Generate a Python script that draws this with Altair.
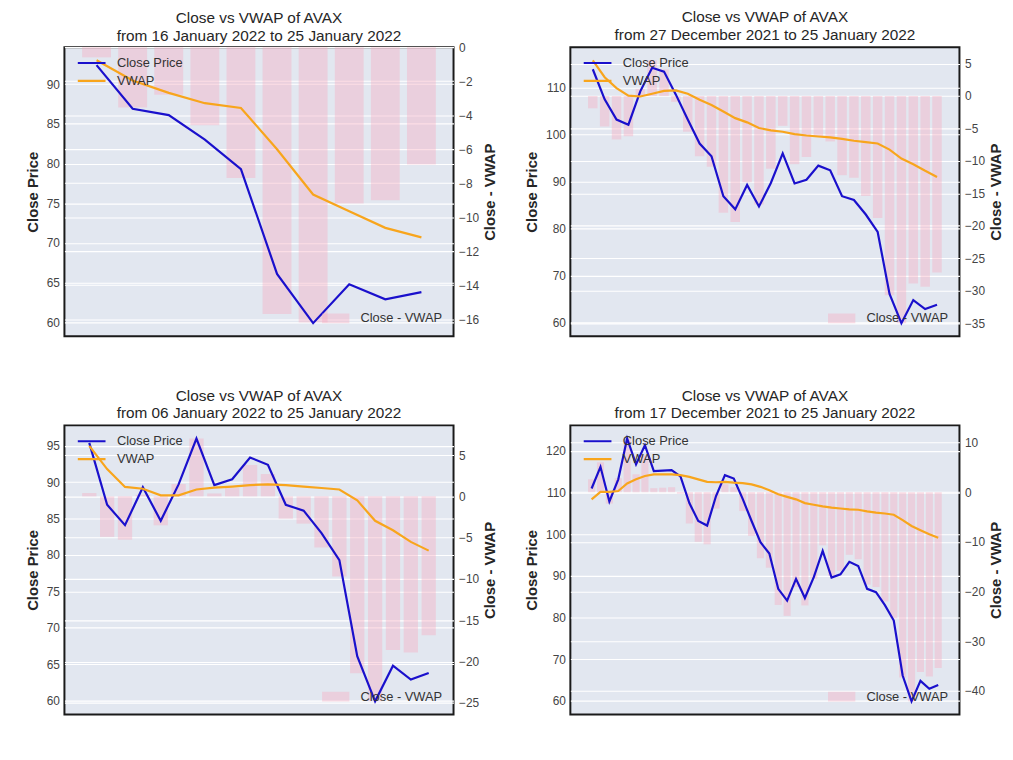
import altair as alt
import pandas as pd
import numpy as np

# ---- data (AVAX daily close, 17 Dec 2021 .. 25 Jan 2022) ----
dates = pd.date_range("2021-12-17", "2022-01-25", freq="D")
close = [111.0, 116.2, 107.9, 113.2, 123.0, 116.8, 121.4, 115.2, 115.3, 115.4,
         113.9, 107.5, 103.2, 102.1, 109.2, 114.2, 113.4, 108.5, 103.2, 98.1,
         95.4, 86.9, 84.1, 89.3, 84.7, 89.7, 96.0, 89.6, 90.4, 93.4,
         92.4, 86.9, 86.1, 83.0, 79.3, 66.1, 59.9, 64.8, 62.9, 63.8]

vwap_from_16jan = [93.0, 90.45, 88.9, 87.6, 87.0, 81.8, 76.1, 74.0, 71.9, 70.7]
vwap_from_06jan = [95.0, 91.8, 89.35, 89.1, 88.2, 88.2, 89.0, 89.25, 89.4, 89.6,
                   89.7, 89.6, 89.4, 89.2, 89.0, 87.5, 84.7, 83.4, 81.8, 80.6]
vwap_from_27dec = [115.8, 112.2, 109.9, 108.3, 108.1, 108.7, 109.3, 109.4, 108.7, 107.4,
                   106.3, 104.9, 103.5, 102.6, 101.4, 100.9, 100.6, 100.1, 99.8, 99.6,
                   99.4, 99.1, 98.7, 98.4, 98.1, 96.8, 94.9, 93.7, 92.3, 91.0]
vwap_from_17dec = [108.4, 110.2, 110.2, 110.4, 112.2, 113.2, 114.0, 114.4, 114.4, 114.4,
                   114.2, 113.8, 113.2, 112.6, 112.5, 112.6, 112.4, 112.3, 112.0, 111.4,
                   110.6, 109.6, 109.0, 108.4, 107.5, 107.1, 106.7, 106.4, 106.2, 106.0,
                   105.9, 105.5, 105.2, 105.0, 104.7, 103.4, 102.0, 101.0, 100.0, 99.2]

left_ticks_16jan = [60, 65, 70, 75, 80, 85, 90]
right_ticks_16jan = [0, -2, -4, -6, -8, -10, -12, -14, -16]
left_ticks_27dec = [60, 70, 80, 90, 100, 110]
right_ticks_27dec = [5, 0, -5, -10, -15, -20, -25, -30, -35]
left_ticks_06jan = [60, 65, 70, 75, 80, 85, 90, 95]
right_ticks_06jan = [5, 0, -5, -10, -15, -20, -25]
left_ticks_17dec = [60, 70, 80, 90, 100, 110, 120]
right_ticks_17dec = [10, 0, -10, -20, -30, -40]

series_names = ["Close Price", "VWAP"]
bar_name = "Close - VWAP"
colors = ["#1a10cc", "#f8a51c"]
bar_color = "#f7a8bd"

PW, PH = 393, 292
FONT = "Liberation Sans"


def panel(vwap, lticks, rticks):
    n = len(vwap)
    c = close[-n:]
    d = dates[-n:]
    df = pd.DataFrame({"i": np.arange(n), "close": c, "vwap": vwap})
    df["diff"] = df["close"] - df["vwap"]
    df["lbl"] = bar_name
    long = pd.concat([
        pd.DataFrame({"i": np.arange(n), "value": c, "series": series_names[0]}),
        pd.DataFrame({"i": np.arange(n), "value": vwap, "series": series_names[1]}),
    ])
    # matplotlib-like autoscaling (5% margins, bars sticky at 0)
    m = 0.05 * ((n - 1) + 0.8)
    xdom = [-0.4 - m, (n - 1) + 0.4 + m]
    lo = min(min(c), min(vwap)); hi = max(max(c), max(vwap)); sp = hi - lo
    ydom = [lo - 0.05 * sp, hi + 0.05 * sp]
    dmin = min(0.0, df["diff"].min()); dmax = max(0.0, df["diff"].max()); dsp = dmax - dmin
    rdom = [dmin - 0.05 * dsp if dmin < 0 else 0.0, dmax + 0.05 * dsp if dmax > 0 else 0.0]

    # a tick label sitting on the top edge pushes the title up; compensate
    top_px = min((rdom[1] - t) / (rdom[1] - rdom[0]) * PH for t in rticks)
    title_offset = 4 - max(0.0, 7 - top_px)

    xs = alt.Scale(domain=xdom, nice=False, zero=False)

    bars = alt.Chart(df).transform_calculate(
        x0="datum.i - 0.4", x1="datum.i + 0.4", zero="0"
    ).mark_bar(opacity=0.38).encode(
        x=alt.X("x0:Q", scale=xs, axis=None),
        x2="x1:Q",
        y=alt.Y("diff:Q", scale=alt.Scale(domain=rdom, nice=False, zero=False),
                axis=alt.Axis(orient="right", values=rticks, title="Close - VWAP",
                              grid=True, labelPadding=5, titlePadding=4,
                              titleAngle=270, titleBaseline="top")),
        y2="zero:Q",
        fill=alt.Fill("lbl:N", scale=alt.Scale(domain=[bar_name], range=[bar_color]),
                      legend=alt.Legend(orient="none", legendX=260, legendY=266, title=None,
                                        symbolType="M-1,-0.36L1,-0.36L1,0.36L-1,0.36Z",
                                        symbolSize=760, symbolOpacity=0.38, symbolStrokeWidth=0,
                                        clipHeight=16, labelOffset=11)),
    )

    lines = alt.Chart(long).mark_line(strokeWidth=2.2).encode(
        x=alt.X("i:Q", scale=xs, axis=None),
        y=alt.Y("value:Q", scale=alt.Scale(domain=ydom, nice=False, zero=False),
                axis=alt.Axis(orient="left", values=lticks, title="Close Price",
                              grid=True, labelPadding=5, titlePadding=6)),
        stroke=alt.Stroke("series:N", scale=alt.Scale(domain=series_names, range=colors),
                          legend=alt.Legend(orient="none", legendX=12, legendY=8, title=None,
                                            symbolType="stroke", symbolSize=784,
                                            symbolStrokeWidth=2.2, clipHeight=16,
                                            rowPadding=2, labelOffset=10)),
        detail="series:N",
    )

    title = ["Close vs VWAP of AVAX",
             "from %s to %s" % (d[0].strftime("%d %B %Y"), d[-1].strftime("%d %B %Y"))]
    return alt.layer(bars, lines).resolve_scale(
        y="independent", fill="independent", stroke="independent"
    ).properties(
        width=PW, height=PH,
        title=alt.TitleParams(title, fontSize=15.5, font=FONT, fontWeight="normal",
                              color="#262626", anchor="middle", lineHeight=17.6,
                              offset=title_offset, frame="group"),
    )


p1 = panel(vwap_from_16jan, left_ticks_16jan, right_ticks_16jan)
p2 = panel(vwap_from_27dec, left_ticks_27dec, right_ticks_27dec)
p3 = panel(vwap_from_06jan, left_ticks_06jan, right_ticks_06jan)
p4 = panel(vwap_from_17dec, left_ticks_17dec, right_ticks_17dec)

res = dict(fill="independent", stroke="independent", y="independent", x="independent")
row1 = alt.hconcat(p1, p2, spacing=24).resolve_scale(**res)
row2 = alt.hconcat(p3, p4, spacing=24).resolve_scale(**res)

chart = alt.vconcat(row1, row2, spacing=50).resolve_scale(**res).properties(
    padding={"left": 16, "top": -3, "right": 0, "bottom": 0}
).configure(
    font=FONT,
).configure_view(
    fill="#e2e7f0", stroke="#1a1a1a", strokeWidth=2,
).configure_axis(
    domain=False, ticks=False, gridColor="#ffffff", gridWidth=1.1, gridOpacity=1,
    labelFont=FONT, labelFontSize=12, labelColor="#444444",
    titleFont=FONT, titleFontSize=15, titleFontWeight="bold", titleColor="#262626",
).configure_legend(
    labelFont=FONT, labelFontSize=13, labelColor="#333333", padding=0,
)

chart.save("out.html", embed_options={"renderer": "svg", "actions": False})
